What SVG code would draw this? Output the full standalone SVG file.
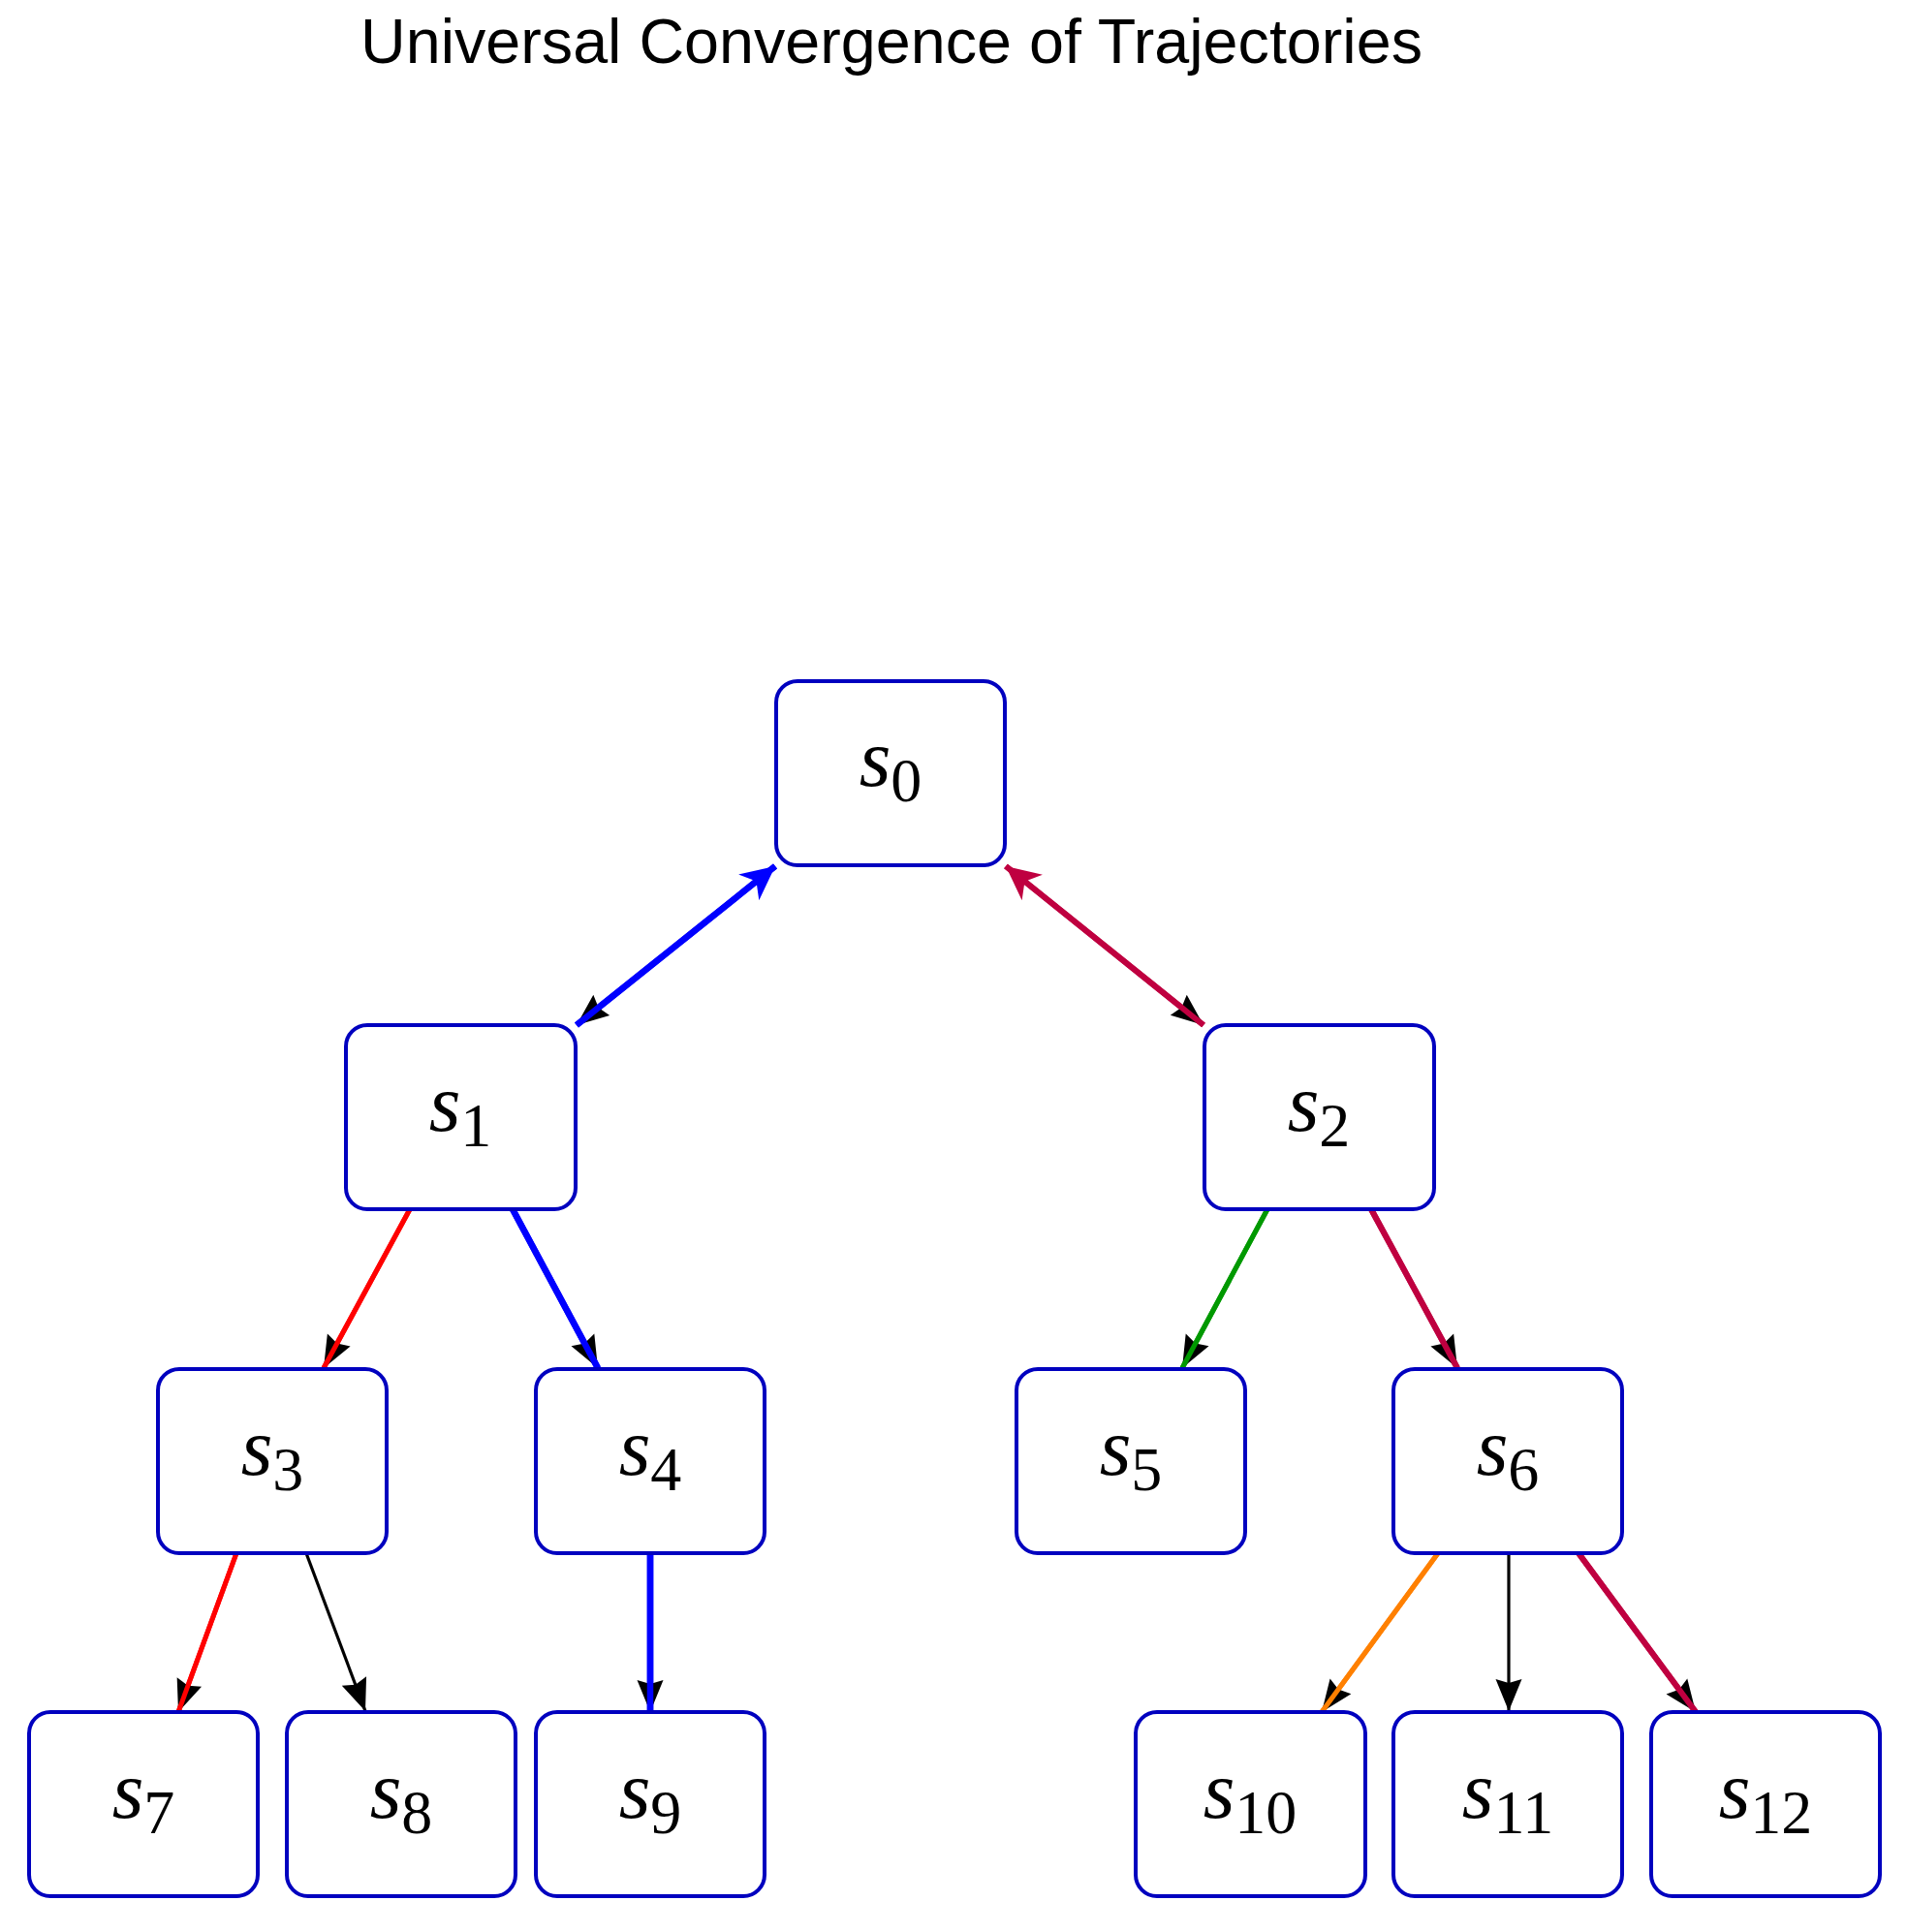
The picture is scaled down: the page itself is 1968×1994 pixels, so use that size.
<svg xmlns="http://www.w3.org/2000/svg" xmlns:xlink="http://www.w3.org/1999/xlink" width="1968" height="1994" viewBox="0 0 1968 1994">
<style>
.box{fill:#fff;stroke:#0000BF;stroke-width:4}
.lbl{font-family:"Liberation Serif","Times New Roman",serif;text-anchor:middle;fill:#000}
.s{font-style:italic;font-size:84px}
.sub{font-size:64px}
.title{font-family:"Liberation Sans",Arial,sans-serif;font-size:64px;text-anchor:middle;fill:#000}
.e{fill:none;stroke-linecap:butt}
.blue{stroke:#0000FF;stroke-width:6.5}
.crim{stroke:#BF0040;stroke-width:6}
.red{stroke:#FF0000;stroke-width:5}
.green{stroke:#009900;stroke-width:5}
.orange{stroke:#FF8000;stroke-width:5}
.black{stroke:#000;stroke-width:3.2}
</style>
<defs>
<marker id="hk" markerUnits="userSpaceOnUse" viewBox="-36 -15 38 30" markerWidth="38" markerHeight="30" refX="0" refY="0" orient="auto">
<path d="M0,0 L-33,-13.5 L-29,0 L-33,13.5 Z" fill="#000"/>
</marker>
<marker id="hb" markerUnits="userSpaceOnUse" viewBox="-38 -19 40 38" markerWidth="40" markerHeight="38" refX="0" refY="0" orient="auto-start-reverse">
<path d="M0,0 L-35,-17 L-25,0 L-35,17 Z" fill="#0000FF"/>
</marker>
<marker id="hc" markerUnits="userSpaceOnUse" viewBox="-38 -19 40 38" markerWidth="40" markerHeight="38" refX="0" refY="0" orient="auto-start-reverse">
<path d="M0,0 L-35,-17 L-25,0 L-35,17 Z" fill="#BF0040"/>
</marker>
</defs>
<rect width="1968" height="1994" fill="#fff"/>
<text class="title" x="920" y="65" textLength="1096" lengthAdjust="spacingAndGlyphs">Universal Convergence of Trajectories</text>

<g id="connectors">
<path id="e01" class="e blue" d="M800,894 L595,1058" marker-start="url(#hb)" marker-end="url(#hk)"/>
<path id="e02" class="e crim" d="M1038,894 L1242,1058" marker-start="url(#hc)" marker-end="url(#hk)"/>
<path id="e13" class="e red" d="M423,1248 L334,1412" marker-end="url(#hk)"/>
<path id="e14" class="e blue" d="M529,1248 L617,1412" marker-end="url(#hk)"/>
<path id="e25" class="e green" d="M1308,1248 L1220,1412" marker-end="url(#hk)"/>
<path id="e26" class="e crim" d="M1415,1248 L1504,1412" marker-end="url(#hk)"/>
<path id="e37" class="e red" d="M244,1603 L184,1767" marker-end="url(#hk)"/>
<path id="e38" class="e black" d="M316,1603 L377,1766" marker-end="url(#hk)"/>
<path id="e49" class="e blue" d="M671,1603 L671,1767" marker-end="url(#hk)"/>
<path id="e610" class="e orange" d="M1484,1603 L1364,1767" marker-end="url(#hk)"/>
<path id="e611" class="e black" d="M1557,1603 L1557,1766" marker-end="url(#hk)"/>
<path id="e612" class="e crim" d="M1629,1603 L1750,1767" marker-end="url(#hk)"/>
<!-- coloured strokes drawn over the black tips, as in the reference -->
<path class="e blue" d="M800,894 L595,1058"/>
<path class="e crim" d="M1038,894 L1242,1058"/>
<path class="e red" d="M423,1248 L334,1412"/>
<path class="e blue" d="M529,1248 L617,1412"/>
<path class="e green" d="M1308,1248 L1220,1412"/>
<path class="e crim" d="M1415,1248 L1504,1412"/>
<path class="e red" d="M244,1603 L184,1767"/>
<path class="e blue" d="M671,1603 L671,1767"/>
<path class="e orange" d="M1484,1603 L1364,1767"/>
<path class="e crim" d="M1629,1603 L1750,1767"/>
</g>

<g id="n0"><rect class="box" x="801" y="703" width="236" height="190" rx="22"/><text class="lbl" x="919" y="811"><tspan class="s">s</tspan><tspan class="sub" dy="16">0</tspan></text></g>
<g id="n1"><rect class="box" x="357" y="1058" width="237" height="190" rx="22"/><text class="lbl" x="475" y="1167"><tspan class="s">s</tspan><tspan class="sub" dy="16">1</tspan></text></g>
<g id="n2"><rect class="box" x="1243" y="1058" width="237" height="190" rx="22"/><text class="lbl" x="1361" y="1167"><tspan class="s">s</tspan><tspan class="sub" dy="16">2</tspan></text></g>
<g id="n3"><rect class="box" x="163" y="1413" width="236" height="190" rx="22"/><text class="lbl" x="281" y="1522"><tspan class="s">s</tspan><tspan class="sub" dy="16">3</tspan></text></g>
<g id="n4"><rect class="box" x="553" y="1413" width="236" height="190" rx="22"/><text class="lbl" x="671" y="1522"><tspan class="s">s</tspan><tspan class="sub" dy="16">4</tspan></text></g>
<g id="n5"><rect class="box" x="1049" y="1413" width="236" height="190" rx="22"/><text class="lbl" x="1167" y="1522"><tspan class="s">s</tspan><tspan class="sub" dy="16">5</tspan></text></g>
<g id="n6"><rect class="box" x="1438" y="1413" width="236" height="190" rx="22"/><text class="lbl" x="1556" y="1522"><tspan class="s">s</tspan><tspan class="sub" dy="16">6</tspan></text></g>
<g id="n7"><rect class="box" x="30" y="1767" width="236" height="190" rx="22"/><text class="lbl" x="148" y="1876"><tspan class="s">s</tspan><tspan class="sub" dy="16">7</tspan></text></g>
<g id="n8"><rect class="box" x="296" y="1767" width="236" height="190" rx="22"/><text class="lbl" x="414" y="1876"><tspan class="s">s</tspan><tspan class="sub" dy="16">8</tspan></text></g>
<g id="n9"><rect class="box" x="553" y="1767" width="236" height="190" rx="22"/><text class="lbl" x="671" y="1876"><tspan class="s">s</tspan><tspan class="sub" dy="16">9</tspan></text></g>
<g id="n10"><rect class="box" x="1172" y="1767" width="237" height="190" rx="22"/><text class="lbl" x="1290" y="1876"><tspan class="s">s</tspan><tspan class="sub" dy="16">10</tspan></text></g>
<g id="n11"><rect class="box" x="1438" y="1767" width="236" height="190" rx="22"/><text class="lbl" x="1556" y="1876"><tspan class="s">s</tspan><tspan class="sub" dy="16">11</tspan></text></g>
<g id="n12"><rect class="box" x="1704" y="1767" width="236" height="190" rx="22"/><text class="lbl" x="1822" y="1876"><tspan class="s">s</tspan><tspan class="sub" dy="16">12</tspan></text></g>
</svg>
